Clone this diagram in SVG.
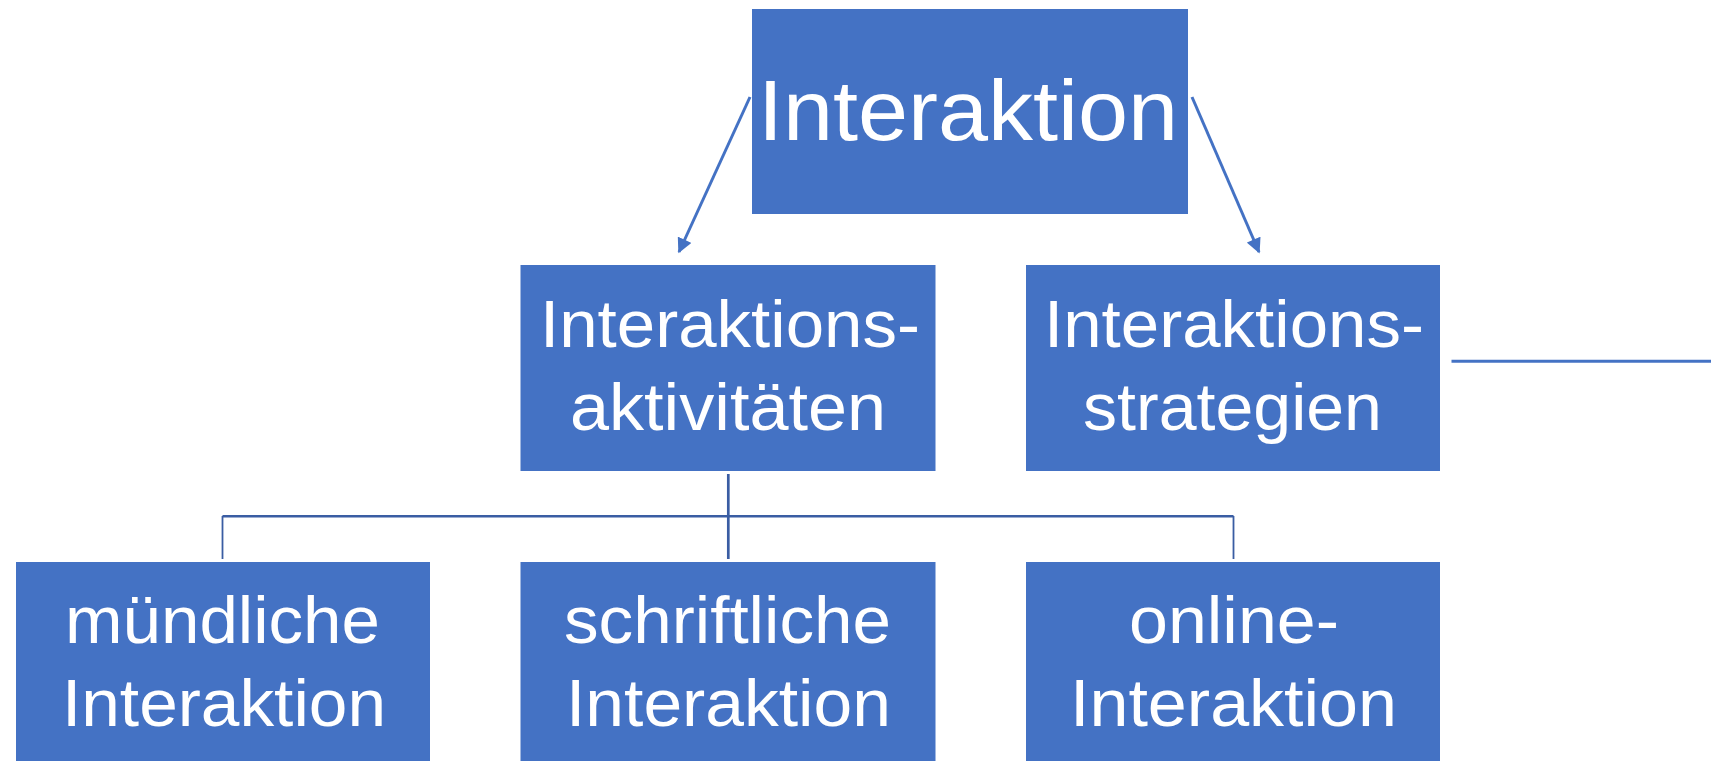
<svg xmlns="http://www.w3.org/2000/svg" width="1711" height="761" viewBox="0 0 1711 761">
<style>
.box{fill:#4472C4;}
.t{fill:#FFFFFF;font-family:"Liberation Sans",Arial,sans-serif;text-anchor:middle;}
.big{font-size:85px;}
.mid{font-size:66px;}
.arrow{stroke:#4472C4;stroke-width:3;fill:none;}
.tree{stroke:#3A5DA3;fill:none;}
</style>
<defs>
<marker id="ah" viewBox="0 0 10 10" refX="9" refY="5" markerWidth="5.2" markerHeight="5" orient="auto" markerUnits="strokeWidth">
<path d="M0,0 L10,5 L0,10 z" fill="#4472C4"/>
</marker>
</defs>
<rect width="1711" height="761" fill="#FFFFFF"/>
<g id="connectors">
<line class="arrow" x1="750" y1="97" x2="679" y2="252" marker-end="url(#ah)"/>
<line class="arrow" x1="1192" y1="97" x2="1259" y2="252" marker-end="url(#ah)"/>
<line class="tree" stroke-width="2.7" x1="728.3" y1="474" x2="728.3" y2="559"/>
<line class="tree" stroke-width="2.4" x1="222.5" y1="516.2" x2="1233.5" y2="516.2"/>
<line class="tree" stroke-width="1.8" x1="222.5" y1="516" x2="222.5" y2="559"/>
<line class="tree" stroke-width="1.8" x1="1233.5" y1="516" x2="1233.5" y2="559"/>
<line stroke="#4472C4" stroke-width="3" x1="1451.5" y1="361.3" x2="1711" y2="361.3"/>
</g>
<g id="interaktion">
<rect class="box" x="752" y="9" width="436" height="205"/>
<text class="t big" x="968" y="140" textLength="420" lengthAdjust="spacingAndGlyphs">Interaktion</text>
</g>
<g id="aktivitaeten">
<rect class="box" x="520.5" y="265" width="415" height="206"/>
<text class="t mid" x="730" y="347" textLength="380" lengthAdjust="spacingAndGlyphs">Interaktions-</text>
<text class="t mid" x="728" y="430" textLength="316" lengthAdjust="spacingAndGlyphs">aktivitäten</text>
</g>
<g id="strategien">
<rect class="box" x="1026" y="265" width="414" height="206"/>
<text class="t mid" x="1234" y="347" textLength="380" lengthAdjust="spacingAndGlyphs">Interaktions-</text>
<text class="t mid" x="1232.5" y="430" textLength="299" lengthAdjust="spacingAndGlyphs">strategien</text>
</g>
<g id="muendlich">
<rect class="box" x="16" y="562" width="414" height="199"/>
<text class="t mid" x="222.5" y="643" textLength="315" lengthAdjust="spacingAndGlyphs">mündliche</text>
<text class="t mid" x="224" y="726" textLength="324" lengthAdjust="spacingAndGlyphs">Interaktion</text>
</g>
<g id="schriftlich">
<rect class="box" x="520.5" y="562" width="415" height="199"/>
<text class="t mid" x="727.5" y="643" textLength="327" lengthAdjust="spacingAndGlyphs">schriftliche</text>
<text class="t mid" x="728.5" y="726" textLength="325" lengthAdjust="spacingAndGlyphs">Interaktion</text>
</g>
<g id="online">
<rect class="box" x="1026" y="562" width="414" height="199"/>
<text class="t mid" x="1234" y="643" textLength="210" lengthAdjust="spacingAndGlyphs">online-</text>
<text class="t mid" x="1233.5" y="726" textLength="327" lengthAdjust="spacingAndGlyphs">Interaktion</text>
</g>
</svg>
